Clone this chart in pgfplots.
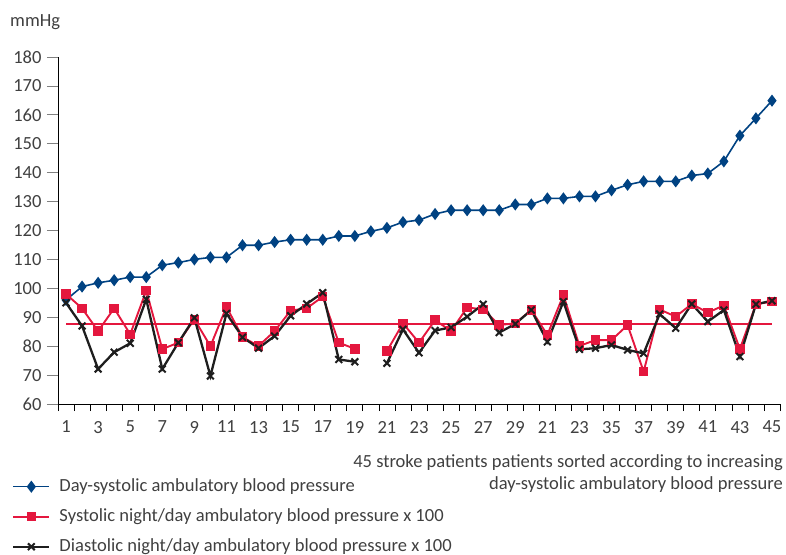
\documentclass[border=0pt]{standalone}
\usepackage{pgfplots}
\pgfplotsset{compat=1.18}
\usepackage{fontspec}
\setmainfont{Carlito}
\definecolor{cblue}{HTML}{004282}
\definecolor{cred}{HTML}{E4173E}
\definecolor{cblack}{HTML}{1E1E1E}
\definecolor{cgray}{HTML}{404040}
\definecolor{ctick}{HTML}{808080}
\begin{document}
\begin{tikzpicture}
\useasboundingbox (0,0) rectangle (786bp,555bp);
\begin{axis}[
  at={(58bp,151bp)}, anchor=south west,
  scale only axis, width=722bp, height=347bp,
  xmin=0.5, xmax=45.5, ymin=60, ymax=180,
  axis x line=bottom, axis y line=left,
  axis line style={-, black, line width=0.8pt},
  font=\fontsize{18.6}{23}\selectfont,
  /pgf/number format/assume math mode=true,
  ytick={60,70,...,180},
  yticklabel style={text=cgray, xshift=-2bp},
  xtick={1,3,...,45},
  xticklabels={1,3,5,7,9,11,13,15,17,19,21,23,25,27,29,21,23,35,37,39,41,43,45},
  xticklabel style={text=cgray, yshift=-2.5bp},
  minor xtick={0.5,1.5,...,45.5},
  tick align=outside,
  major tick length=11bp, minor tick length=7bp,
  major x tick style={draw=none},
  minor x tick style={draw=black, line width=0.7pt},
  ytick style={draw=ctick, line width=0.8pt},
  unbounded coords=jump,
  ylabel={mmHg},
  every axis y label/.style={at={(rel axis cs:0,1)}, anchor=north west, inner sep=0pt, xshift=-48bp, yshift=43bp, font=\fontsize{18.6}{23}\selectfont, text=cgray},
  xlabel={45 stroke patients patients sorted according to increasing\\day-systolic ambulatory blood pressure},
  every axis x label/.style={at={(rel axis cs:1,0)}, anchor=north east, align=right, inner sep=0pt, xshift=3bp, yshift=-50bp, font=\fontsize{18.6}{23}\selectfont, text=cgray},
  legend style={at={(rel axis cs:0,0)}, anchor=north west, xshift=-46bp, yshift=-74bp, draw=none, fill=none, inner sep=0pt, row sep=13bp, column sep=9bp, nodes={inner sep=0pt, text height=13bp, text depth=4bp, text=cgray}, font=\fontsize{18.6}{23}\selectfont},
  legend cell align=left,
  legend image code/.code={\draw[mark repeat=2,mark phase=2] plot coordinates {(0bp,0bp)(18bp,0bp)(36bp,0bp)};},
]
\addplot[cblue, line width=1.6pt, mark=diamond*, mark size=4.8bp, mark options={solid, fill=cblue}] coordinates {
(1,96)(2,100.6)(3,101.9)(4,102.8)(5,103.9)(6,103.9)(7,108)(8,108.9)(9,110)(10,110.7)
(11,110.7)(12,114.9)(13,114.9)(14,116)(15,116.8)(16,116.8)(17,116.8)(18,118.1)(19,118.1)(20,119.7)
(21,120.9)(22,122.9)(23,123.6)(24,125.7)(25,127)(26,127)(27,127)(28,127)(29,129)(30,129)
(31,131.1)(32,131.1)(33,131.8)(34,131.8)(35,133.9)(36,135.8)(37,137)(38,137)(39,137)(40,139)
(41,139.7)(42,143.9)(43,152.8)(44,158.8)(45,164.9)};
\addlegendentry{Day-systolic ambulatory blood pressure}
\addplot[draw=cred, line width=1.3pt, no marks, forget plot] coordinates {(1,87.7) (45,87.7)};
\addplot[cred, line width=1.9pt, mark=square*, mark size=3.8bp, mark options={solid, fill=cred}] coordinates {
(1,98.0)(2,93.1)(3,85.2)(4,93.1)(5,84.1)(6,99.2)(7,79.0)(8,81.2)(9,89.3)(10,80.0)
(11,93.6)(12,83.1)(13,80.1)(14,85.2)(15,92.3)(16,93.1)(17,97.1)(18,81.2)(19,79.1)(20,nan)
(21,78.3)(22,87.9)(23,81.2)(24,89.0)(25,85.2)(26,93.4)(27,92.7)(28,87.3)(29,87.9)(30,92.5)
(31,83.9)(32,97.7)(33,80.1)(34,82.1)(35,82.1)(36,87.3)(37,71.2)(38,92.7)(39,90.2)(40,94.6)
(41,91.6)(42,94.1)(43,79.0)(44,94.5)(45,95.4)};
\addlegendentry{Systolic night/day ambulatory blood pressure x 100}
\addplot[draw=cblack, color=cblack, line width=2.3pt, mark=x, mark size=4.8bp, mark options={solid, line width=2pt}] coordinates {
(1,95.0)(2,87.0)(3,72.1)(4,77.9)(5,81.0)(6,96.2)(7,72.1)(8,81.2)(9,89.8)(10,69.7)
(11,91.3)(12,83.1)(13,79.3)(14,83.5)(15,90.5)(16,94.6)(17,98.5)(18,75.4)(19,74.6)(20,nan)
(21,74.1)(22,85.8)(23,77.7)(24,85.4)(25,86.5)(26,90.2)(27,94.5)(28,84.7)(29,87.7)(30,92.5)
(31,81.5)(32,95.4)(33,78.9)(34,79.3)(35,80.4)(36,78.7)(37,77.5)(38,91.1)(39,86.2)(40,94.6)
(41,88.5)(42,92.5)(43,76.4)(44,94.5)(45,95.7)};
\addlegendentry{Diastolic night/day ambulatory blood pressure x 100}
\end{axis}
\end{tikzpicture}
\end{document}
